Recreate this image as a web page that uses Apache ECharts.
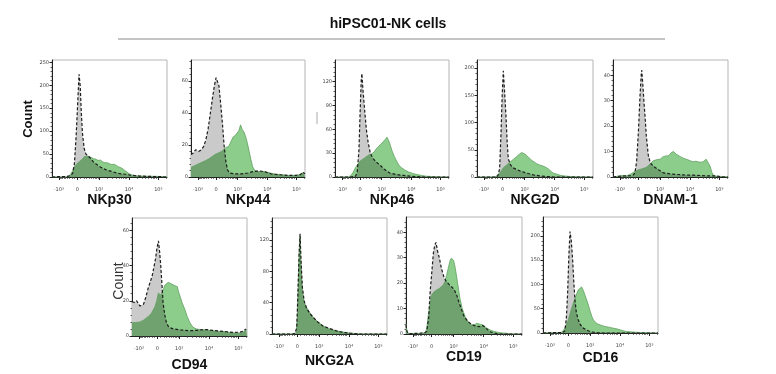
<!DOCTYPE html>
<html><head><meta charset="utf-8">
<script src="https://cdn.jsdelivr.net/npm/echarts@6/dist/echarts.min.js"></script>
<style>html,body{margin:0;padding:0;background:#fff}#c{width:776px;height:374px}</style>
</head><body><div id="c"></div>
<script>
// ---------- DATA (x = display channel on biexponential axis, 0..100; y = count) ----------
const markers = ['NKp30','NKp44','NKp46','NKG2D','DNAM-1','CD94','NKG2A','CD19','CD16'];
const xTickValues = [6, 22, 41, 67, 92.5];
const xTickLabels = ['-10³','0','10³','10⁴','10⁵'];
const yMaxes = [255, 73, 147, 215, 46, 67, 148, 46, 239];
const ySteps = [50, 20, 30, 50, 10, 20, 40, 10, 50];

const nkp30Iso = [[0,0],[6,1],[12,1],[16,3],[18,8],[19.5,30],[21,90],[22.5,170],[23.5,224],[24.5,200],[25.5,140],[26.5,95],[28,62],[29.5,50],[31,46],[33,42],[36,33],[39,27],[42,22],[45,18],[48,15],[52,12],[56,9],[60,7],[64,6],[68,4],[72,3],[76,2],[82,1.5],[88,1],[94,1],[97,0],[100,0]];
const nkp30Stain = [[0,0],[12,0],[14,1],[16,5],[18,14],[20,24],[22,30],[24,34],[26,38],[28,44],[29.5,48],[31,46],[32.5,47],[34,43],[36,40],[38,39],[40,36],[42,37],[44,33],[46,31],[48,31],[50,29],[52,27],[54,28],[56,25],[58,22],[60,20],[62,17],[64,13],[66,9],[68,6],[70,4],[73,2.5],[78,2],[84,1.5],[90,1.5],[95,1],[100,0.5]];

const nkp44Iso = [[0,14],[2,15],[4,17],[5.5,18],[7,16],[9,17],[11,19],[13,23],[15,30],[17,40],[19,50],[20.5,57],[22,62],[23,61],[24.5,57],[26,46],[27.5,34],[29,20],[30.5,10],[32,4.5],[34,2.5],[38,2],[44,2],[50,2.5],[55,3.5],[60,3.8],[65,3.2],[70,2],[76,1.5],[84,1],[92,1],[96,1.5],[98,3],[100,2]];
const nkp44Stain = [[0,6],[3,7],[6,8],[9,9],[12,10],[15,11],[18,12.5],[21,14],[24,15],[27,16],[29,17.5],[31,18.5],[33,19],[35,22],[37,25],[39,26],[40.5,25],[42,29],[43.5,32.5],[45,29.5],[46.5,28],[48,25],[49.5,21],[51,16],[52.5,11],[54,6.5],[56,4],[59,3.5],[63,3.5],[67,3],[72,2],[78,1.5],[86,1],[93,1],[97,2],[99,3],[100,2]];

const nkp46Iso = [[0,0],[14,0],[18,1],[19.5,6],[21,34],[22,80],[23,122],[23.6,130],[24.5,110],[26,84],[27.5,60],[29,44],[31,30],[33,24],[36,19],[39.5,15],[43,10],[48,5],[54,3],[60,2],[66,1],[72,0.5],[78,0],[100,0]];
const nkp46Stain = [[0,0],[12,0],[14,2],[16,6],[18,12],[20,16],[22,20],[24,22],[26,24],[28,26],[30,28],[32,29],[34,31],[36,35],[38,38],[40,41],[42,44],[44,47],[45.6,50],[47,46],[48.5,40],[50,33],[52,26],[54,20],[56,15],[58,12],[61,9],[64,6.5],[68,4.5],[72,3],[76,2],[80,1],[86,0.5],[92,0],[100,0]];

const nkg2dIso = [[0,0],[16,0],[18,2],[19.5,15],[20.7,81],[21.7,150],[22.7,195],[23.7,160],[25,111],[26,65],[27,33],[29,22],[31,17],[35,13],[38.5,10],[43,7],[48.5,4],[54,2],[60,1],[66,0],[100,0]];
const nkg2dStain = [[0,0],[15,0],[17,2],[19,6],[21,11],[22.7,17],[25,21],[27,25],[28.5,28],[30.5,31],[32,34],[34,37],[36,41],[37.5,44],[38.5,45],[40,43],[41.5,42],[43,39],[45,35],[47,31],[48.5,28],[51,25],[54,22],[57,20],[60,17],[62,14],[64,10],[66,7],[69,5],[72,3],[75,2],[80,1],[86,0.5],[92,0],[100,0]];

const dnam1Iso = [[0,0],[6,0.3],[12,0.5],[17,0.5],[19,1.5],[20.5,6],[22,17],[23.5,32],[24.5,40],[25,42],[26,36],[27,29],[28,23],[29,16],[30.7,8.5],[32.5,5.5],[35,4.3],[39,3],[44,1.6],[50,1.2],[55,1],[62,0.8],[70,0.7],[80,0.5],[90,0.4],[96,0],[100,0]];
const dnam1Stain = [[0,0],[4,0.3],[8,0.6],[12,0.5],[14.8,1],[16.5,0.8],[19,2.2],[22,2.8],[26,3.3],[29,3.8],[32,5],[35,6.4],[38,6.8],[41,7],[43,7.8],[45,8.2],[46.7,8.7],[48.5,8.4],[50.5,9.5],[52.5,10],[54,9.6],[55.5,8.8],[56.8,8.3],[59,7.9],[61,7.4],[62.6,7],[65,6.8],[67.5,6.3],[70,6],[72,6.2],[74.5,5.9],[77,5.8],[79,6.2],[81,7],[82.5,6.8],[84.4,4.3],[86,1.8],[87.5,0.6],[90,0.3],[95,0.2],[100,0]];

const cd94Iso = [[0,19.5],[2,19],[4,20],[5.5,19],[7,17],[8.5,16],[10,18],[12,22],[14,27],[16,31],[17.5,34],[19,39],[20.5,44],[21.7,50],[23,54],[24,48],[25,40],[26,30],[27,19],[28.5,12],[30,7.4],[32,5],[36,4],[42,3.5],[50,3],[56,3.2],[60,3.5],[65,3.6],[70,3.2],[76,2.8],[82,2.4],[88,2],[94,2.2],[97,2.8],[99,4],[100,3]];
const cd94Stain = [[0,7.5],[3,7.6],[7,8],[10,9],[14,11],[17,13],[20,16.7],[21.5,20],[23,24.5],[24.5,23],[26,24.5],[27.5,27],[28.7,29],[30,30],[31.6,30.5],[33,30],[34.5,29.5],[36,29],[37.5,28.5],[39.4,28],[40.5,25],[41.8,22.5],[43.5,19],[46,15],[48,11],[50.5,7.4],[53,5],[56,4],[60,3.6],[65,3.4],[70,3],[75,2.6],[80,2.5],[85,2],[91,1.5],[95,1.7],[98,2.5],[99.5,4],[100,3]];

const nkg2aIso = [[0,0],[18,0],[20,1],[21.5,8],[22.5,50],[23.5,100],[24.4,128],[25.2,95],[26.4,60],[28,42],[30,33],[33,26],[36,21],[40,15],[44.6,10],[50,7],[56,4],[62,2],[68,1],[75,0],[100,0]];
const nkg2aStain = [[0,0],[19,0],[21,1],[22,20],[23,72],[23.8,110],[24.4,124],[25.2,90],[26.4,55],[28,40],[30,34],[33,27],[36,21],[40,15.5],[44.6,10],[50,6.5],[56,4],[62,2.5],[68,1],[75,0.3],[80,0],[100,0]];

const cd19Iso = [[0,3.5],[0.8,1],[2,0.2],[6,0.2],[12,0.3],[16,0.5],[17.8,1],[19.5,6],[20.7,16],[22,23],[23.6,31.8],[24.8,35],[25.9,36],[27,33],[28.7,30],[30,27],[31.6,24],[33,22],[35,20.5],[37,19.5],[39.4,18.5],[41.5,17.5],[43.7,15.3],[46,12],[48,9.4],[50,7],[52.3,5.5],[55,4.3],[58,3.5],[61,3],[63.8,2.9],[66,3.3],[68,2.8],[70,1.8],[72.4,0.9],[76,0.4],[80,0],[100,0]];
const cd19Stain = [[0,4],[0.8,1.2],[2,0.2],[8,0.2],[14,0.3],[16.7,0.5],[18,2.5],[19,6.8],[20.5,11],[22,15.3],[24,16.5],[26.4,17.3],[29,18],[32,19.2],[33.5,20.5],[35,23],[36.5,26],[38,28.9],[39,29.8],[40,30.2],[41,29],[42,27],[43,24.4],[44.5,20],[46.5,14],[48.5,10],[51,6.8],[53.5,4.8],[56.6,3.5],[59,3.6],[61,4.2],[62.3,4.3],[64,3.8],[66.6,3.5],[69,2.5],[72.4,1.6],[76,1],[81,0.5],[88,0.2],[92,0],[100,0]];

const cd16Iso = [[0,0],[6,0.5],[12,1],[17,1],[19,4],[20.3,30],[21.4,82],[22.5,160],[23.5,209],[24.6,190],[25.8,150],[26.8,105],[27.8,68],[29,42],[30.7,27],[32.5,17],[35,10],[38,6],[41,3],[43.8,1.5],[48,0.5],[52,0],[100,0]];
const cd16Stain = [[0,0],[8,0.5],[14,0.8],[16,1.5],[18,6],[20,15],[22,27],[24,44],[26.4,62],[28,72],[29.5,82],[30.7,89],[32,92],[33.6,95],[35,88],[36.5,78],[38,68],[39.4,58],[41,45],[42.5,34],[43.8,27],[46,21],[48,18],[49.6,16.5],[53,14],[57,12],[61,10],[65,8],[69,5],[72.8,3],[78,2],[84,1],[90,0.5],[96,0],[100,0]];

const isoSeries = [nkp30Iso, nkp44Iso, nkp46Iso, nkg2dIso, dnam1Iso, cd94Iso, nkg2aIso, cd19Iso, cd16Iso];
const stainSeries = [nkp30Stain, nkp44Stain, nkp46Stain, nkg2dStain, dnam1Stain, cd94Stain, nkg2aStain, cd19Stain, cd16Stain];

// ---------- LAYOUT ----------
const boxes = [[52,60,115,117],[191,60,114,117],[335,60,114,117],[477,60,116,117],[613,60,115,117],
               [132,218,115,118],[272,218,115,116],[406,217,116,117],[543,217,115,116]];
const nameGaps = [14,14,14,14,14,22,20,16,18];

// minor tick positions on the biexponential display (axis styling only)
function disp(v){ return v >= 0 ? 22 + 11.07*Math.asinh(v/373) : 22 - 10*Math.asinh(-v/421); }
const minorTickValues = [];
for (let k=1;k<=9;k++){ minorTickValues.push(disp(-100*k)); minorTickValues.push(disp(100*k)); }
for (let k=2;k<=9;k++){ minorTickValues.push(disp(1000*k)); minorTickValues.push(disp(10000*k)); }
minorTickValues.push(disp(200000));

const GREEN_FILL = '#8ccd8c';
const FONT = 'Liberation Sans, Arial, sans-serif';

const option = {
  animation: false,
  backgroundColor: '#ffffff',
  title: { text: 'hiPSC01-NK cells', left: 'center', top: 12,
    textStyle: { fontFamily: FONT, fontWeight: 'bold', fontSize: 14, color: '#111' } },
  grid: [], xAxis: [], yAxis: [], series: [],
  graphic: [
    { type: 'line', shape: { x1: 118, y1: 39, x2: 665, y2: 39 }, style: { stroke: '#8a8a8a', lineWidth: 1.2 } },
    { type: 'text', x: 28, y: 119, rotation: Math.PI/2,
      style: { text: 'Count', font: 'bold 13px ' + FONT, fill: '#111', textAlign: 'center', textVerticalAlign: 'middle', align: 'center', verticalAlign: 'middle' } },
    { type: 'text', x: 119, y: 281, rotation: Math.PI/2,
      style: { text: 'Count', font: '14px ' + FONT, fill: '#333', textAlign: 'center', textVerticalAlign: 'middle', align: 'center', verticalAlign: 'middle' } },
    { type: 'line', shape: { x1: 317, y1: 112, x2: 317, y2: 124 }, style: { stroke: '#aaa', lineWidth: 1 } }
  ]
};

markers.forEach((name, i) => {
  const b = boxes[i];
  option.grid.push({ left: b[0], top: b[1], width: b[2], height: b[3], show: true,
    borderColor: '#b5b5b5', borderWidth: 1, backgroundColor: '#fff', containLabel: false });
  option.xAxis.push({ type: 'value', gridIndex: i, min: 0, max: 100, position: 'bottom',
    name: name, nameLocation: 'middle', nameGap: nameGaps[i],
    nameTextStyle: { fontFamily: FONT, fontWeight: 'bold', fontSize: 14, color: '#111' },
    axisLine: { show: true, lineStyle: { color: '#222', width: 1 } },
    axisTick: { show: true, length: 3, customValues: xTickValues, lineStyle: { color: '#222' } },
    axisLabel: { show: true, customValues: xTickValues, margin: 10, fontSize: 5, color: '#444',
      fontFamily: 'DejaVu Sans', formatter: v => { const k = xTickValues.findIndex(t => Math.abs(t - v) < 1e-6); return k >= 0 ? xTickLabels[k] : ''; } },
    splitLine: { show: false } });
  option.xAxis.push({ type: 'value', gridIndex: i, min: 0, max: 100, position: 'bottom',
    axisLine: { show: false },
    axisTick: { show: true, length: 1.8, customValues: minorTickValues, lineStyle: { color: '#333', width: 0.8 } },
    axisLabel: { show: false }, splitLine: { show: false } });
  const majors = [];
  for (let v = 0; v <= yMaxes[i]; v += ySteps[i]) majors.push(v);
  option.yAxis.push({ type: 'value', gridIndex: i, min: 0, max: yMaxes[i], interval: ySteps[i],
    axisLine: { show: true, lineStyle: { color: '#222', width: 1 } },
    axisTick: { show: true, length: 2.5, customValues: majors, lineStyle: { color: '#222' } },
    minorTick: { show: true, splitNumber: 5, length: 1.5, lineStyle: { color: '#333', width: 0.8 } },
    axisLabel: { show: true, customValues: majors, margin: 3, fontSize: 5, color: '#444', fontFamily: 'DejaVu Sans' },
    splitLine: { show: false }, minorSplitLine: { show: false } });
  option.series.push({ type: 'line', xAxisIndex: 2*i, yAxisIndex: i, data: isoSeries[i],
    showSymbol: false, symbol: 'none', silent: true, z: 1,
    lineStyle: { width: 0, opacity: 0 }, areaStyle: { color: '#cacaca', opacity: 1 } });
  option.series.push({ type: 'line', xAxisIndex: 2*i, yAxisIndex: i, data: stainSeries[i],
    showSymbol: false, symbol: 'none', silent: true, z: 2,
    lineStyle: { width: 0.8, color: '#5f9f5f' }, areaStyle: { color: GREEN_FILL, opacity: 1 } });
  option.series.push({ type: 'line', xAxisIndex: 2*i, yAxisIndex: i, data: isoSeries[i],
    showSymbol: false, symbol: 'none', silent: true, z: 3,
    lineStyle: { width: 1.2, color: '#1e1e1e', type: [3, 2] } });
});

const chart = echarts.init(document.getElementById('c'), null, { renderer: 'canvas' });
chart.setOption(option);
function applyBlend(){
  const zr = chart.getZr();
  zr.storage.getDisplayList(true).forEach(el => {
    if (el.style && typeof el.style.fill === 'string' && el.style.fill.toLowerCase() === GREEN_FILL) {
      el.style.blend = 'multiply'; el.dirty();
    }
  });
  zr.refreshImmediately();
}
applyBlend();
</script></body></html>
